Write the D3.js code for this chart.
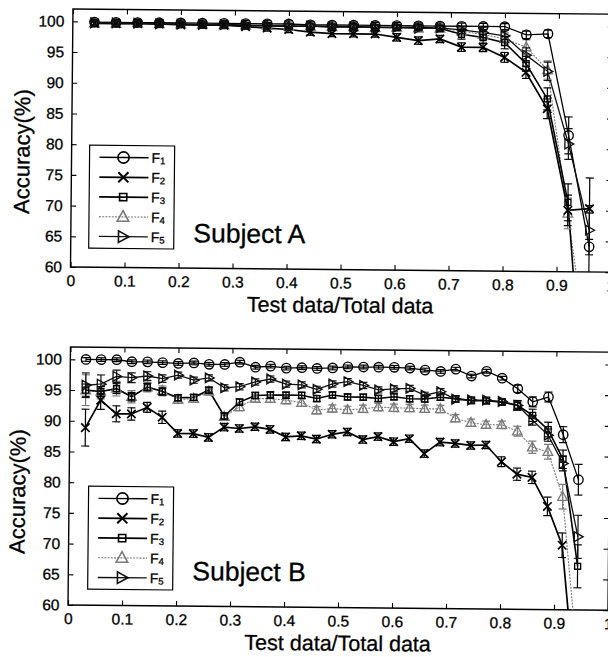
<!DOCTYPE html>
<html>
<head>
<meta charset="utf-8">
<script src="https://cdn.jsdelivr.net/npm/d3@7"></script>
<style>
  body { margin: 0; background: #fff; }
  text { fill: #000; stroke: #000; stroke-width: 0.3px; }
</style>
</head>
<body>
<div id="chart"></div>
<script>
// test-data fractions (panel A: 24 points, panel B: 33 points)
const xA = [0.04,0.08,0.12,0.16,0.2,0.24,0.28,0.32,0.36,0.4,0.44,0.48,0.52,0.56,0.6,0.64,0.68,0.72,0.76,0.8,0.84,0.88,0.92,0.96];
const xB = [0.029,0.057,0.086,0.114,0.143,0.171,0.2,0.229,0.257,0.286,0.314,0.343,0.371,0.4,0.429,0.457,0.486,0.514,0.543,0.571,0.6,0.629,0.657,0.686,0.714,0.743,0.771,0.8,0.829,0.857,0.886,0.914,0.943];

const xTicks = [0,0.1,0.2,0.3,0.4,0.5,0.6,0.7,0.8,0.9,1];
const yTicks = [60,65,70,75,80,85,90,95,100];
const seriesNames = ["F1","F2","F3","F4","F5"];

// Subject A accuracy (%)
const accA_F1 = [99.9,99.9,99.9,99.9,99.9,99.9,99.9,99.9,99.9,99.9,99.8,99.8,99.8,99.8,99.8,99.8,99.8,99.8,99.8,99.8,98.5,98.7,82.2,64.1];
const accA_F2 = [99.7,99.7,99.7,99.7,99.6,99.6,99.6,99.4,99.2,99.0,98.6,98.4,98.4,98.4,97.9,97.4,97.7,96.4,96.4,94.8,92.4,86.5,70.0,70.3];
const accA_F3 = [99.8,99.7,99.8,99.7,99.7,99.6,99.7,99.6,99.6,99.5,99.6,99.5,99.6,99.5,99.5,99.6,99.4,98.5,98.0,97.2,93.8,88.1,71.3,30];
const accA_F4 = [99.7,99.7,99.8,99.7,99.7,99.7,99.6,99.6,99.6,99.5,99.5,99.5,99.5,99.4,99.5,99.4,99.4,99.0,98.5,97.8,96.5,92.8,69.5,46];
const accA_F5 = [99.8,99.8,99.8,99.7,99.7,99.7,99.7,99.6,99.6,99.6,99.6,99.5,99.5,99.5,99.5,99.4,99.5,99.2,98.8,98.3,95.2,92.6,80.8,66.8];

const errA_F1 = [0.5,0.5,0.5,0.5,0.5,0.5,0.5,0.5,0.5,0.5,0.5,0.5,0.5,0.5,0.5,0.5,0.5,0.5,0.5,0.5,0.6,0.6,3.0,5.5];
const errA_F2 = [0.4,0.4,0.4,0.4,0.4,0.4,0.4,0.4,0.5,0.5,0.5,0.5,0.5,0.5,0.6,0.6,0.6,0.7,0.7,0.8,1.0,1.6,2.5,5.0];
const errA_F3 = [0.4,0.4,0.4,0.4,0.4,0.4,0.4,0.4,0.4,0.4,0.4,0.4,0.4,0.4,0.4,0.4,0.4,0.8,1.0,1.0,1.2,1.8,3.0,3.0];
const errA_F4 = [0.4,0.4,0.4,0.4,0.4,0.4,0.4,0.4,0.4,0.4,0.4,0.4,0.4,0.4,0.4,0.4,0.4,0.6,0.8,1.0,1.2,1.5,2.5,3.0];
const errA_F5 = [0.4,0.4,0.4,0.4,0.4,0.4,0.4,0.4,0.4,0.4,0.4,0.4,0.4,0.4,0.4,0.4,0.5,0.6,0.8,1.0,1.2,1.5,2.5,4.0];

// Subject B accuracy (%)
const accB_F1 = [100,100,100,99.7,99.7,99.6,99.5,99.6,99.4,99.4,99.8,99.0,99.2,98.9,99.0,98.9,99.0,99.2,99.2,99.2,99.2,99.1,98.8,98.6,99.0,97.9,98.7,97.6,95.9,93.8,94.6,88.5,81.2];
const accB_F2 = [88.9,93.4,91.2,91.2,92.3,90.7,88.1,88.1,87.5,89.2,89.0,89.3,88.9,87.7,87.9,87.4,88.2,88.6,87.4,87.9,87.1,87.6,85.2,87.1,86.9,86.6,86.7,84.0,82.0,81.5,76.8,70.5,45];
const accB_F3 = [95.0,94.8,95.3,94.0,95.6,94.9,93.9,94.0,95.2,91.0,93.3,94.4,94.5,94.5,94.5,94.0,94.6,94.3,94.3,94.1,94.4,94.1,94.1,94.4,94.2,93.9,93.9,93.7,93.2,91.6,89.3,84.5,67.1];
const accB_F4 = [95.0,94.8,95.3,94.0,95.6,95.0,93.6,93.8,95.0,90.9,92.5,93.9,93.9,93.7,93.3,92.1,92.4,92.2,92.4,92.7,92.6,92.6,92.5,92.5,91.0,90.3,90.0,90.0,89.0,86.4,85.7,78.4,53];
const accB_F5 = [95.8,96.0,97.3,97.1,97.4,97.0,97.6,96.8,97.2,95.6,95.8,96.6,97.1,96.3,96.2,95.5,96.4,96.8,96.2,95.5,95.7,95.8,94.7,95.3,94.1,94.0,94.0,93.8,93.2,90.8,88.4,83.8,71.9];

const errB_F1 = [0.3,0.3,0.3,0.3,0.3,0.3,0.3,0.3,0.3,0.3,0.3,0.3,0.3,0.3,0.3,0.3,0.3,0.3,0.3,0.3,0.3,0.3,0.3,0.3,0.3,0.3,0.3,0.3,0.6,0.8,0.8,1.3,2.5];
const errB_F2 = [3.0,1.5,1.3,1.0,0.8,1.0,0.6,0.6,0.6,0.6,0.6,0.6,0.6,0.6,0.6,0.6,0.6,0.6,0.6,0.6,0.6,0.6,0.6,0.6,0.6,0.6,0.6,0.8,1.0,1.0,1.5,2.0,3.0];
const errB_F3 = [1.0,0.8,0.8,0.7,0.6,0.6,0.5,0.5,0.5,0.5,0.5,0.5,0.5,0.5,0.5,0.5,0.5,0.5,0.5,0.5,0.5,0.5,0.5,0.5,0.5,0.5,0.5,0.5,0.8,1.0,1.2,1.5,3.5];
const errB_F4 = [2.5,1.2,1.2,1.0,0.8,0.8,0.6,0.6,0.6,0.6,0.6,0.6,0.6,0.6,0.6,0.6,0.6,0.6,0.6,0.6,0.6,0.6,0.6,0.6,0.6,0.6,0.6,0.6,0.8,1.0,1.2,2.0,3.0];
const errB_F5 = [2.0,1.5,1.0,0.8,0.7,0.6,0.5,0.5,0.5,0.5,0.5,0.5,0.5,0.5,0.5,0.5,0.5,0.5,0.5,0.5,0.5,0.5,0.5,0.5,0.5,0.5,0.5,0.5,0.7,0.8,1.0,1.2,3.5];

const W = 608, H = 657;
const tilt = 0.55; // the scanned page is slightly rotated

const style = {
  F1: {stroke: "#000", width: 1.3, dash: null, marker: "circle"},
  F2: {stroke: "#000", width: 1.7, dash: null, marker: "cross"},
  F3: {stroke: "#000", width: 1.6, dash: null, marker: "square"},
  F4: {stroke: "#7a7a7a", width: 1.1, dash: "2,1.2", marker: "triUp"},
  F5: {stroke: "#111", width: 1.3, dash: null, marker: "triRight"}
};

const svg = d3.select("#chart")
  .append("svg")
    .attr("width", W)
    .attr("height", H)
    .style("font-family", "'Liberation Sans', Arial, Helvetica, sans-serif");

function drawMarker(g, type, cx, cy, color, big) {
  const s = big ? 1.2 : 1;
  const m = g.append("g").attr("transform", `translate(${cx},${cy}) scale(${s})`)
    .attr("fill", "none").attr("stroke", color).attr("stroke-width", 1.35);
  if (type === "circle") m.append("circle").attr("r", 4.7);
  else if (type === "cross") m.append("path").attr("d", "M-4.2,-4.2L4.2,4.2M-4.2,4.2L4.2,-4.2").attr("stroke-width", 1.7);
  else if (type === "square") m.append("rect").attr("x", -3).attr("y", -3).attr("width", 6).attr("height", 6);
  else if (type === "triUp") m.append("path").attr("d", "M0,-5.2L4.8,3.6L-4.8,3.6Z");
  else if (type === "triRight") m.append("path").attr("d", "M-3.6,-4.8L5.2,0L-3.6,4.8Z");
}

function drawPanel(p) {
  const g = svg.append("g")
    .attr("transform", `rotate(${tilt},${p.left},${p.bottom})`);

  const x = d3.scaleLinear().domain([0, 1]).range([p.left, p.left + 540]);
  const y = d3.scaleLinear().domain([60, 102]).range([p.bottom, p.bottom - 258]);

  const clipId = "clip" + p.id;
  g.append("clipPath").attr("id", clipId)
    .append("rect")
      .attr("x", x(0)).attr("y", y(102))
      .attr("width", x(1) - x(0)).attr("height", y(60) - y(102));

  // axes with inward ticks
  const fmt = d => d;
  const axB = g.append("g").attr("transform", `translate(0,${y(60)})`)
    .call(d3.axisBottom(x).tickValues(xTicks).tickSize(-5).tickPadding(8).tickFormat(fmt));
  const axT = g.append("g").attr("transform", `translate(0,${y(102)})`)
    .call(d3.axisTop(x).tickValues(xTicks).tickSize(-5).tickFormat(""));
  const axL = g.append("g").attr("transform", `translate(${x(0)},0)`)
    .call(d3.axisLeft(y).tickValues(yTicks).tickSize(-5).tickPadding(8.5).tickFormat(fmt));
  const axR = g.append("g").attr("transform", `translate(${x(1)},0)`)
    .call(d3.axisRight(y).tickValues(yTicks).tickSize(-5).tickFormat(""));
  [axB, axT, axL, axR].forEach(a => {
    a.select(".domain").remove();
    a.selectAll("line").attr("stroke", "#000").attr("stroke-width", 1.1);
    a.selectAll("text").attr("fill", "#000").style("font-size", "15.5px")
      .style("font-family", "'Liberation Sans', Arial, Helvetica, sans-serif");
  });

  g.append("rect")
    .attr("x", x(0)).attr("y", y(102))
    .attr("width", x(1) - x(0)).attr("height", y(60) - y(102))
    .attr("fill", "none").attr("stroke", "#000").attr("stroke-width", 1.4);

  const plot = g.append("g").attr("clip-path", `url(#${clipId})`);

  // lines (grey one first so the black ones sit on top)
  const order = ["F4", "F1", "F2", "F3", "F5"];
  order.forEach(name => {
    const st = style[name];
    const vals = p.acc[name];
    plot.append("path")
      .datum(vals)
      .attr("fill", "none")
      .attr("stroke", st.stroke)
      .attr("stroke-width", st.width)
      .attr("stroke-dasharray", st.dash)
      .attr("d", d3.line().x((d, i) => x(p.xs[i])).y(d => y(d)));
  });

  // error bars and markers
  order.forEach(name => {
    const st = style[name];
    const vals = p.acc[name];
    const errs = p.err[name];
    vals.forEach((v, i) => {
      const cx = x(p.xs[i]);
      const e = errs[i];
      const eb = plot.append("g").attr("stroke", st.stroke).attr("stroke-width", 1.2);
      eb.append("line").attr("x1", cx).attr("x2", cx).attr("y1", y(v - e)).attr("y2", y(v + e));
      eb.append("line").attr("x1", cx - 4).attr("x2", cx + 4).attr("y1", y(v - e)).attr("y2", y(v - e));
      eb.append("line").attr("x1", cx - 4).attr("x2", cx + 4).attr("y1", y(v + e)).attr("y2", y(v + e));
      if (v >= 60) drawMarker(plot, st.marker, cx, y(v), st.stroke, false);
    });
  });

  // axis titles
  g.append("text")
    .attr("transform", `translate(${p.yLabelX},${p.yLabelY}) rotate(-90)`)
    .attr("text-anchor", "middle")
    .style("font-size", "22px")
    .text("Accuracy(%)");

  g.append("text")
    .attr("x", x(0) + 270).attr("y", y(60) + 43)
    .attr("text-anchor", "middle")
    .style("font-size", "21.5px")
    .text("Test data/Total data");

  g.append("text")
    .attr("x", p.titleX).attr("y", y(60) - 26)
    .style("font-size", "26.5px")
    .text(p.title);

  // legend
  const lg = g.append("g").attr("transform", `translate(${p.legX},${p.legY})`);
  lg.append("rect")
    .attr("width", 85).attr("height", 103)
    .attr("fill", "#fff").attr("stroke", "#000").attr("stroke-width", 1.2);
  seriesNames.forEach((name, i) => {
    const st = style[name];
    const ry = 12 + i * 19.8;
    lg.append("line")
      .attr("x1", 10).attr("x2", 59).attr("y1", ry).attr("y2", ry)
      .attr("stroke", st.stroke).attr("stroke-width", st.width)
      .attr("stroke-dasharray", st.dash);
    drawMarker(lg, st.marker, 34, ry, st.stroke, true);
    const t = lg.append("text")
      .attr("x", 62).attr("y", ry + 5)
      .style("font-size", "14px")
      .text("F");
    t.append("tspan")
      .attr("dy", 1.5)
      .style("font-size", "9.5px")
      .text(name.slice(1));
  });
}

drawPanel({
  id: "A", left: 70.5, bottom: 267, xs: xA,
  acc: {F1: accA_F1, F2: accA_F2, F3: accA_F3, F4: accA_F4, F5: accA_F5},
  err: {F1: errA_F1, F2: errA_F2, F3: errA_F3, F4: errA_F4, F5: errA_F5},
  title: "Subject A", titleX: 193,
  legX: 88.5, legY: 145,
  yLabelX: 28.5, yLabelY: 152
});

drawPanel({
  id: "B", left: 68, bottom: 605, xs: xB,
  acc: {F1: accB_F1, F2: accB_F2, F3: accB_F3, F4: accB_F4, F5: accB_F5},
  err: {F1: errB_F1, F2: errB_F2, F3: errB_F3, F4: errB_F4, F5: errB_F5},
  title: "Subject B", titleX: 192,
  legX: 87.5, legY: 486,
  yLabelX: 24, yLabelY: 492
});
</script>
</body>
</html>
